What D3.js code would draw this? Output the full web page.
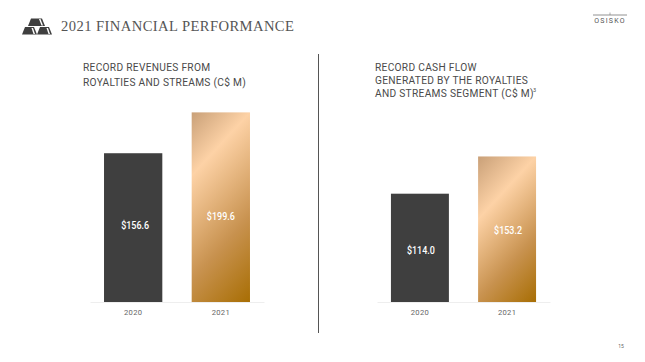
<!DOCTYPE html>
<html>
<head>
<meta charset="utf-8">
<style>
html, body { margin: 0; padding: 0; background: #fff; }
svg { display: block; }
text { font-family: Roboto, sans-serif; }
.head { font-size: 10.2px; fill: #4a4a4a; letter-spacing: 0.29px; }
.tick { font-size: 7.6px; fill: #666; letter-spacing: 0.3px; }
.val { font-size: 11px; fill: #fff; font-weight: 500; }
</style>
</head>
<body>
<div class="container"></div>
<script src="https://cdn.jsdelivr.net/npm/d3@7"></script>
<script>
const WIDTH = 645;
const HEIGHT = 362;

const years = ["2020", "2021"];
const revenues = [156.6, 199.6];
const cashFlow = [114.0, 153.2];
const revenueTitle = ["RECORD REVENUES FROM", "ROYALTIES AND STREAMS (C$ M)"];
const cashTitle = ["RECORD CASH FLOW", "GENERATED BY THE ROYALTIES", "AND STREAMS SEGMENT (C$ M)"];

var svg = d3.select(".container").append("svg")
    .attr("width", WIDTH)
    .attr("height", HEIGHT);
var defs = svg.append("defs");

var yScale = d3.scaleLinear().domain([0, 200]).range([302, 112]);

// gold fill runs corner to corner, brightest band starts at the top right
var goldGradient = function(id, x, y, w, h){
    var ux = 0.735, uy = 0.677;
    var len = w * ux + h * uy;
    var peak = (w * ux) / len;
    var grad = defs.append("linearGradient")
        .attr("id", id)
        .attr("gradientUnits", "userSpaceOnUse")
        .attr("x1", x).attr("y1", y)
        .attr("x2", x + ux * len).attr("y2", y + uy * len);
    [[0, "#c9a078"], [peak, "#fdd2a6"], [peak + (1 - peak) * 0.55, "#c8924f"], [1, "#a86e04"]].forEach(function(s){
        grad.append("stop").attr("offset", s[0]).attr("stop-color", s[1]);
    });
};

var drawChart = function(id, values, x0, x1, shiftX, shiftY){
    var xScale = d3.scaleBand()
        .domain(years)
        .range([x0, x1])
        .paddingInner(0.335)
        .paddingOuter(0.16);

    var g = svg.append("g")
        .attr("transform", "translate(0,302)")
        .call(d3.axisBottom(xScale).tickSize(0).tickPadding(8));
    g.select(".domain").attr("stroke", "#eeeeee").attr("stroke-width", 1);
    g.selectAll(".tick text").attr("class", "tick");
    g.attr("font-family", null).attr("font-size", null);
    g.selectAll(".tick text").attr("fill", null);

    goldGradient(id, xScale(years[1]), yScale(values[1]), xScale.bandwidth(), yScale(0) - yScale(values[1]));

    svg.selectAll(null)
        .data(values)
        .enter().append("rect")
        .attr("x", function(d, i){ return xScale(years[i]); })
        .attr("y", function(d){ return yScale(d); })
        .attr("width", xScale.bandwidth())
        .attr("height", function(d){ return yScale(0) - yScale(d); })
        .attr("fill", function(d, i){ return i == 0 ? "#3f3f3f" : "url(#" + id + ")"; });

    svg.selectAll(null)
        .data(values)
        .enter().append("text")
        .attr("class", "val")
        .attr("x", function(d, i){ return xScale(years[i]) + xScale.bandwidth() / 2 + shiftX[i]; })
        .attr("y", function(d, i){ return (yScale(d) + yScale(0)) / 2 + 4 + shiftY[i]; })
        .attr("text-anchor", "middle")
        .attr("textLength", 28)
        .attr("lengthAdjust", "spacingAndGlyphs")
        .text(function(d){ return "$" + d.toFixed(1); });
};

drawChart("goldA", revenues, 90, 264, [2, 0], [-3, 9]);
drawChart("goldB", cashFlow, 377, 550, [1, 1], [2, 1]);

// panel titles
var drawTitle = function(lines, x, y, lineGap){
    svg.selectAll(null)
        .data(lines)
        .enter().append("text")
        .attr("class", "head")
        .attr("x", x)
        .attr("y", function(d, i){ return y + i * lineGap; })
        .text(function(d){ return d; });
};
drawTitle(revenueTitle, 83, 71, 14.8);
drawTitle(cashTitle, 375, 71, 13.2);
svg.append("text")
    .attr("class", "head")
    .attr("x", 533).attr("y", 92)
    .style("font-size", "5.5px")
    .text("3");

// divider
svg.append("line")
    .attr("x1", 318.5).attr("x2", 318.5)
    .attr("y1", 54).attr("y2", 333)
    .attr("stroke", "#555").attr("stroke-width", 1);

// slide header
svg.append("text")
    .attr("x", 61).attr("y", 31)
    .attr("fill", "#555")
    .style("font-family", "'Liberation Serif', serif")
    .style("font-size", "14.6px")
    .style("letter-spacing", "0.42px")
    .text("2021 FINANCIAL PERFORMANCE");

var icon = svg.append("g").attr("fill", "#3f3f3f");
icon.append("path").attr("d", "M31 18.5L42 18.5L45 26L28 26Z");
icon.append("path").attr("d", "M25 27L34 27L37 34.5L22 34.5Z");
icon.append("path").attr("d", "M40 27L49 27L52 34.5L37 34.5Z");
var facets = svg.append("g").attr("fill", "#ffffff");
facets.append("path").attr("d", "M39 19L40.5 19L43 25.5L41.5 25.5Z");
facets.append("path").attr("d", "M31.5 28L33 28L35 34L33.5 34Z");
facets.append("path").attr("d", "M46.5 28L48 28L50 34L48.5 34Z");

// logo
svg.append("line")
    .attr("x1", 593).attr("x2", 627)
    .attr("y1", 15).attr("y2", 15)
    .attr("stroke", "#777").attr("stroke-width", 0.8);
svg.append("line")
    .attr("x1", 610).attr("x2", 610)
    .attr("y1", 12.5).attr("y2", 15)
    .attr("stroke", "#777").attr("stroke-width", 0.6);
svg.append("text")
    .attr("x", 610).attr("y", 22.5)
    .attr("text-anchor", "middle")
    .attr("fill", "#555")
    .style("font-size", "7px")
    .style("letter-spacing", "1.2px")
    .text("OSISKO");

// page number
svg.append("text")
    .attr("x", 621).attr("y", 348)
    .attr("text-anchor", "middle")
    .attr("fill", "#666")
    .style("font-size", "5px")
    .text("15");
</script>
</body>
</html>
